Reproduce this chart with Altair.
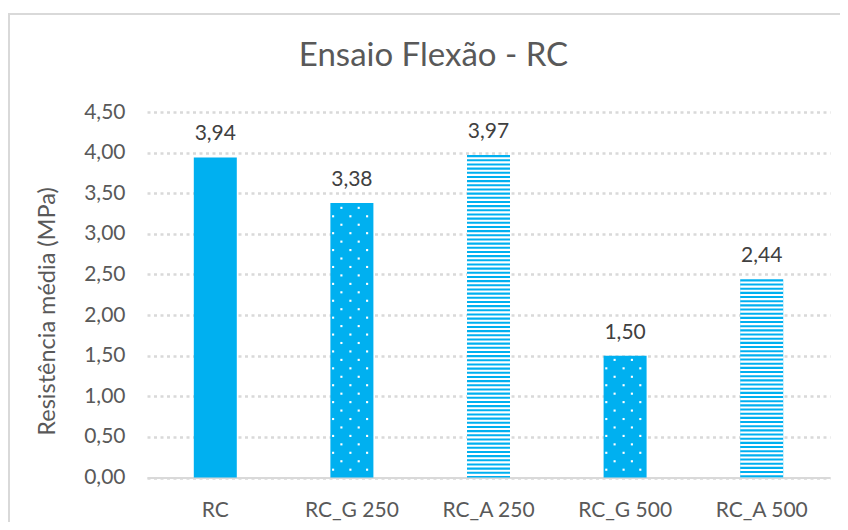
import altair as alt
import pandas as pd

# ---- data ----
categories = ["RC", "RC_G 250", "RC_A 250", "RC_G 500", "RC_A 500"]
values = [3.94, 3.38, 3.97, 1.50, 2.44]
patterns = ["solid", "dots", "stripes", "dots", "stripes"]
y_ticks = [0, 0.5, 1.0, 1.5, 2.0, 2.5, 3.0, 3.5, 4.0, 4.5]

df = pd.DataFrame({"cat": categories, "v": values, "pat": patterns})

FONT = "Lato"
BLUE = "#00B0F0"
GREY_TXT = "#595959"
GRID = "#D9D9D9"
BAR_W = 43
STRIPE = 0.0513
DOT_STEP = 0.104
DOT_START = 0.096

x_axis = alt.Axis(
    title=None, labelAngle=0, labelFontSize=21, labelFont=FONT, labelColor=GREY_TXT,
    ticks=False, tickSize=0, labelPadding=22, domainColor=GRID, domainWidth=2, grid=False,
)
y_axis = alt.Axis(
    values=y_ticks, labelExpr="replace(format(datum.value, '.2f'), '.', ',')",
    labelFontSize=21, labelFont=FONT, labelColor=GREY_TXT, labelPadding=22,
    domain=False, ticks=False, grid=True, gridColor=GRID, gridWidth=2.5, gridDash=[3, 3.5],
    titleFont=FONT, titleFontSize=23.5, titleColor=GREY_TXT, titleFontWeight="normal",
    titleAngle=-90, titleAlign="center", titleBaseline="middle", titleX=-100, titleY=199,
)
Y_TITLE = "Resistência média (MPa)"
y_scale = alt.Scale(domain=[0, 4.5], nice=False, zero=True)
x_enc = alt.X("cat:N", sort=categories, scale=alt.Scale(paddingInner=0, paddingOuter=0), axis=x_axis)

base = alt.Chart(df)

bars = base.mark_bar(size=BAR_W, color=BLUE).encode(
    x=x_enc, y=alt.Y("v:Q", scale=y_scale, axis=y_axis, title=Y_TITLE)
)

stripes = (
    base.transform_filter("datum.pat == 'stripes'")
    .transform_calculate(k=f"sequence(0, ceil(datum.v / {STRIPE}))")
    .transform_flatten(["k"])
    .transform_calculate(
        top=f"datum.v - datum.k * {STRIPE} - {STRIPE} / 2",
        bot=f"max(0, datum.v - (datum.k + 1) * {STRIPE})",
    )
    .transform_filter("datum.top > 0")
    .mark_bar(size=BAR_W, color="white")
    .encode(x=x_enc, y=alt.Y("top:Q", scale=y_scale, axis=y_axis, title=Y_TITLE), y2="bot:Q")
)

dots_base = (
    base.transform_filter("datum.pat == 'dots'")
    .transform_calculate(k=f"sequence(0, floor((datum.v - {DOT_START} - 0.02) / {DOT_STEP}) + 1)")
    .transform_flatten(["k"])
    .transform_calculate(yd=f"{DOT_START} + datum.k * {DOT_STEP}", par="datum.k % 2")
)
dot_cols = {0: [-18.8, -1.5, 15.2], 1: [-10.5, 6.8]}
dot_layers = []
for par, offs in dot_cols.items():
    for off in offs:
        dot_layers.append(
            dots_base.transform_filter(f"datum.par == {par}")
            .mark_square(size=4.5, color="white", opacity=1, xOffset=off)
            .encode(x=x_enc, y=alt.Y("yd:Q", scale=y_scale, axis=y_axis, title=Y_TITLE))
        )

labels = (
    base.transform_calculate(label="replace(format(datum.v, '.2f'), '.', ',')")
    .mark_text(dy=-17, baseline="alphabetic", fontSize=21, font=FONT, color="#404040")
    .encode(x=x_enc, y=alt.Y("v:Q", scale=y_scale, axis=y_axis, title=Y_TITLE), text="label:N")
)

frame_df = pd.DataFrame({"b": [0]})
border_left = (
    alt.Chart(frame_df)
    .mark_rule(stroke=GRID, strokeWidth=2)
    .encode(x=alt.value(-138), y=alt.value(-99), y2=alt.value(1000))
)
border_top = (
    alt.Chart(frame_df)
    .mark_rule(stroke=GRID, strokeWidth=2)
    .encode(x=alt.value(-139), x2=alt.value(1000), y=alt.value(-98))
)

chart = (
    alt.layer(border_left, border_top, bars, stripes, *dot_layers, labels)
    .properties(
        width=683, height=365.5, autosize="none",
        padding={"left": 139, "top": 104, "right": 10, "bottom": 44},
        title=alt.TitleParams(
            "Ensaio Flexão - RC", font=FONT, fontSize=33, color=GREY_TXT, fontWeight="normal",
            anchor="middle", baseline="alphabetic", offset=0, dx=-55, dy=87,
        ),
    )
    .configure_view(stroke=None)
)

chart.save("out.html", embed_options={"renderer": "svg", "actions": False})
